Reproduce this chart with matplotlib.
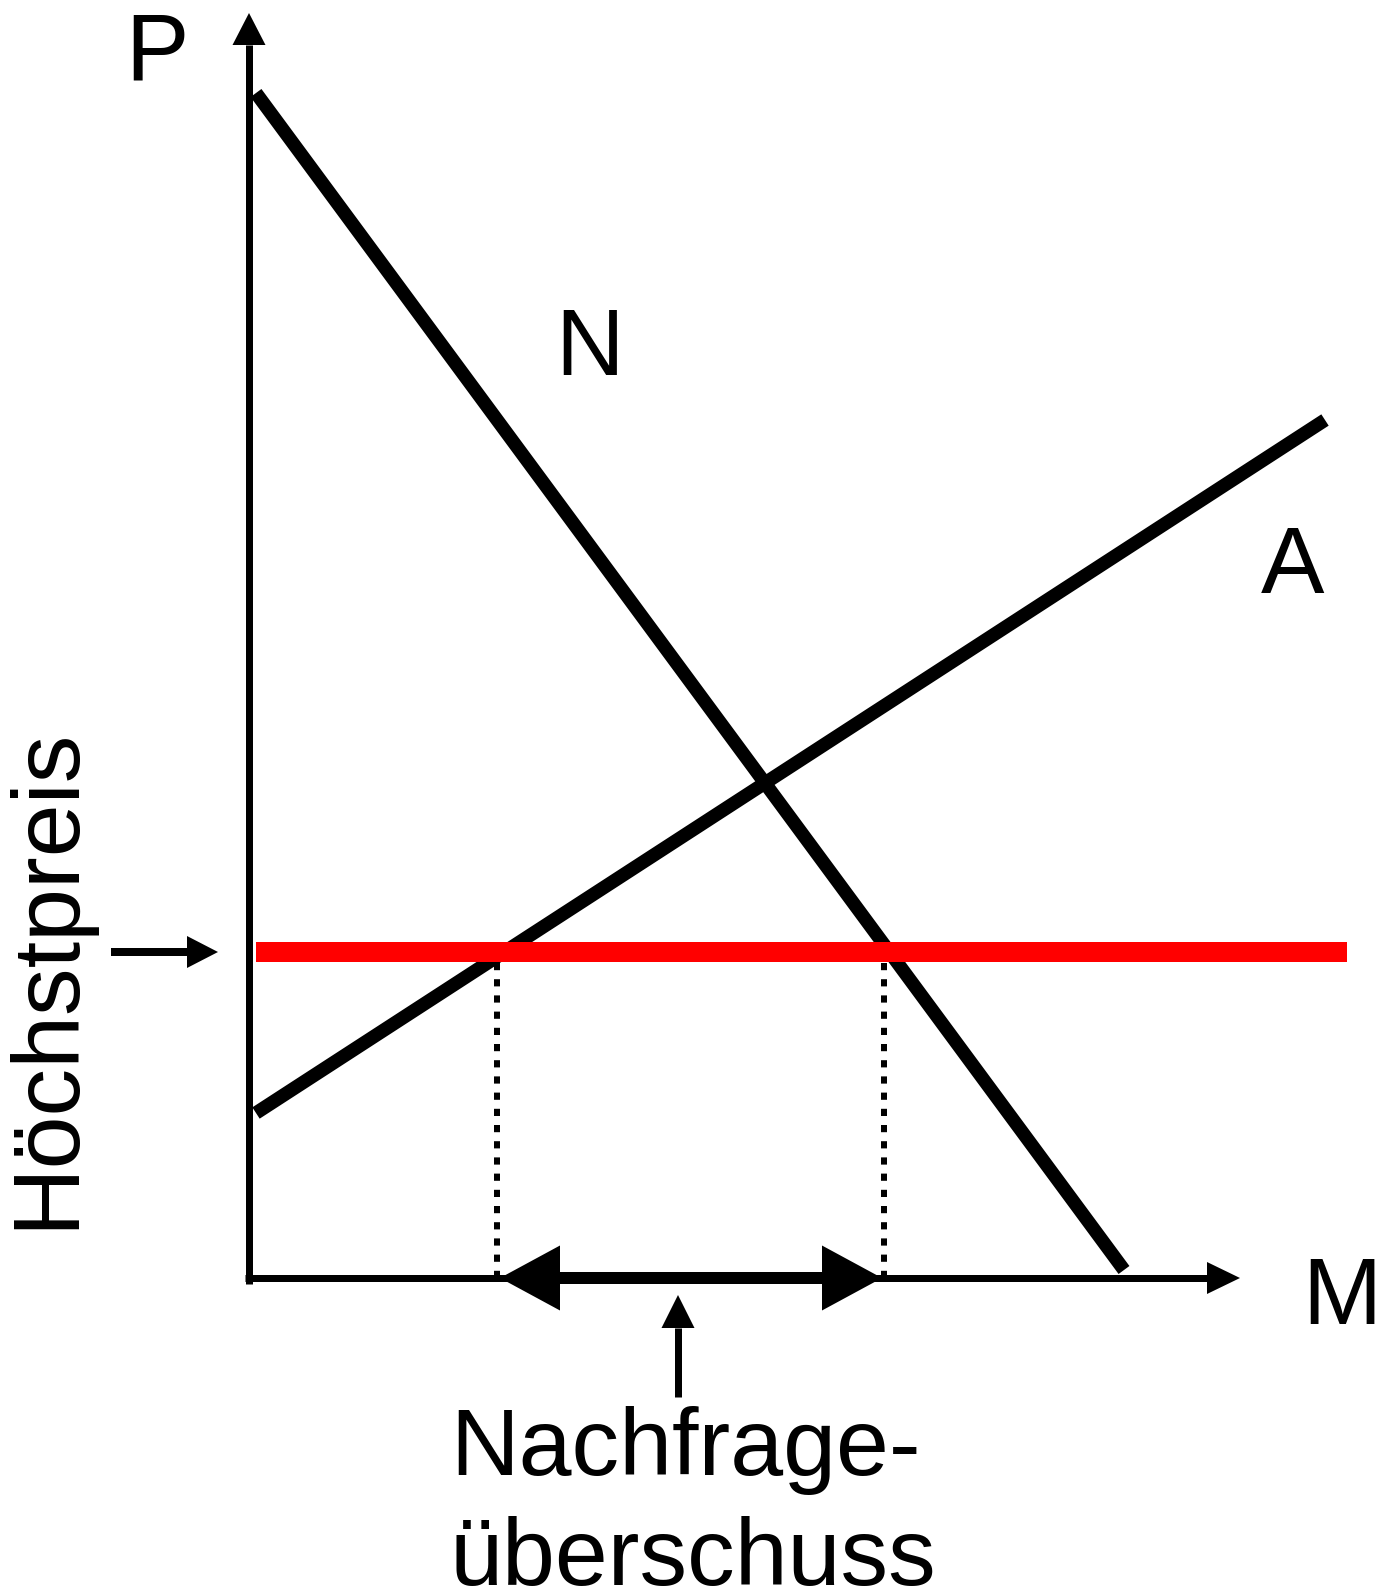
import numpy as np
import matplotlib
matplotlib.use("Agg")
import matplotlib.pyplot as plt

# ---- data (quantity M, price P; arbitrary units) ----
demand_M = [0.7, 87.5]          # Nachfrage N
demand_P = [118.5, 0.8]
supply_M = [0.7, 107.6]         # Angebot A
supply_P = [16.5, 85.8]
max_price = 32.6                # Höchstpreis
max_price_M = [0.7, 109.8]
shortage_M = [24.8, 63.5]       # quantities supplied / demanded at max price
labels = {"P": "P", "M": "M", "N": "N", "A": "A",
          "ceiling": "Höchstpreis", "short1": "Nachfrage-", "short2": "überschuss"}

FONT = ['Liberation Sans', 'DejaVu Sans']
FS = 68.5
PT = 0.72  # points per pixel at dpi 100

fig = plt.figure(figsize=(13.87, 15.91), dpi=100)
ax = fig.add_axes([0, 0, 1, 1])
ax.set_xlim(-24.9, 113.8)
ax.set_ylim(-31.3, 127.8)
ax.axis('off')


def arrow(x0, y0, x1, y1, shaft_px, head_len, head_w, both=False, color='k'):
    """Arrow with filled triangular head(s); sizes in data units (10 px each)."""
    p0 = np.array([x0, y0], float)
    p1 = np.array([x1, y1], float)
    d = p1 - p0
    u = d / np.hypot(*d)
    n = np.array([-u[1], u[0]])

    def head(tip, direction):
        base = tip - direction * head_len
        poly = np.array([tip, base + n * head_w / 2, base - n * head_w / 2])
        ax.fill(poly[:, 0], poly[:, 1], color=color, lw=0, zorder=5)
        return base

    b1 = head(p1, u)
    b0 = head(p0, -u) if both else p0
    ax.plot([b0[0], b1[0]], [b0[1], b1[1]], color=color, lw=shaft_px * PT,
            solid_capstyle='butt', zorder=5)


# axes with arrows
arrow(0, -0.6, 0, 126.5, 7, 3.2, 3.3)
arrow(-0.4, 0, 99.1, 0, 7, 3.3, 3.2)

# demand and supply
ax.plot(demand_M, demand_P, color='black', lw=13.5 * PT, solid_capstyle='butt', zorder=3)
ax.plot(supply_M, supply_P, color='black', lw=13.5 * PT, solid_capstyle='butt', zorder=3)

# maximum price line
ax.plot(max_price_M, [max_price, max_price], color='#ff0000', lw=20 * PT,
        solid_capstyle='butt', zorder=4)

# dotted drop lines
for m in shortage_M:
    ax.plot([m, m], [0, max_price], color='black', lw=6 * PT,
            dashes=(1.2, 1.5), dash_capstyle='butt', zorder=2)

# shortage double arrow
arrow(shortage_M[0] + 0.3, 0, shortage_M[1] - 0.2, 0, 12, 6.0, 6.5, both=True)

# small arrow pointing to the shortage
arrow(42.9, -11.9, 42.9, -1.7, 7, 3.3, 3.3)

# arrow pointing to the maximum price
arrow(-13.8, max_price, -3.1, max_price, 8, 3.1, 3.2)

# texts
kw = dict(family=FONT, fontsize=FS, color='black')
ax.text(-9.2, 119.9, labels["P"], ha='center', va='baseline', **kw)
ax.text(34.1, 90.3, labels["N"], ha='center', va='baseline', **kw)
ax.text(104.4, 68.5, labels["A"], ha='center', va='baseline', **kw)
ax.text(109.3, -4.6, labels["M"], ha='center', va='baseline', **kw)
ax.text(-17.7, 30.0, labels["ceiling"], ha='center', va='baseline',
        rotation=90, rotation_mode='anchor', **kw)
ax.text(20.1, -19.7, labels["short1"], ha='left', va='baseline', **kw)
ax.text(20.1, -30.7, labels["short2"], ha='left', va='baseline', **kw)

fig.savefig("out.png", dpi=100, facecolor='white')
